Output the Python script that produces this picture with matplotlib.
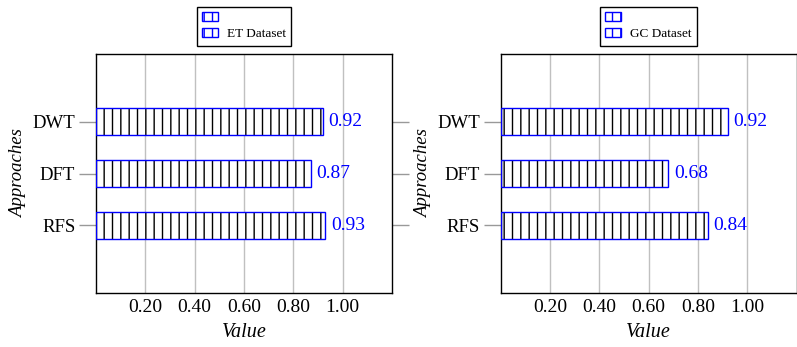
import matplotlib.pyplot as plt
from matplotlib.patches import Rectangle

approaches = ['RFS', 'DFT', 'DWT']
et_values = [0.93, 0.87, 0.92]
gc_values = [0.84, 0.68, 0.92]
x_ticks = [0.2, 0.4, 0.6, 0.8, 1.0]
datasets = ['ET Dataset', 'GC Dataset']

plt.rcParams['font.family'] = ['Liberation Serif', 'DejaVu Serif']
plt.rcParams['hatch.linewidth'] = 1.0

fig = plt.figure(figsize=(7.97, 3.47), dpi=100)
ax1 = fig.add_axes([0.1205, 0.1556, 0.3714, 0.6888])
ax2 = fig.add_axes([0.6282, 0.1556, 0.3714, 0.6888])


def draw_panel(ax, values, name):
    pos = list(range(1, len(approaches) + 1))
    ax.barh(pos, values, height=0.51, color='white', edgecolor='black',
            hatch='||', linewidth=0, zorder=2)
    ax.barh(pos, values, height=0.51, fill=False, edgecolor='blue',
            linewidth=1.0, zorder=3)
    for p, v in zip(pos, values):
        ax.text(v + 0.022, p, f'{v:.2f}', va='center', ha='left',
                color='blue', fontsize=14, zorder=4)

    ax.set_xlim(0, 1.2)
    ax.set_ylim(-0.3, 4.3)
    ax.set_xticks(x_ticks)
    ax.set_xticklabels([f'{t:.2f}' for t in x_ticks], fontsize=14)
    ax.set_yticks(pos)
    ax.set_yticklabels(approaches, fontsize=13.5)
    ax.tick_params(axis='x', length=0, pad=4)
    ax.tick_params(axis='y', length=12, width=1, color='#999999',
                   direction='out', right=True, pad=3)
    ax.grid(axis='x', color='#c0c0c0', linewidth=1, zorder=0)
    ax.set_axisbelow(True)
    for s in ax.spines.values():
        s.set_color('black')
        s.set_linewidth(1)

    ax.set_xlabel('Value', fontsize=14.5, fontstyle='italic', labelpad=5)
    ax.set_ylabel('Approaches', fontsize=13.5, fontstyle='italic', labelpad=4)

    handles = [Rectangle((0, 0), 1, 1, facecolor='white', edgecolor='blue',
                         hatch='||', linewidth=1.0),
               Rectangle((0, 0), 1, 1, facecolor='white', edgecolor='blue',
                         hatch='||', linewidth=1.0)]
    leg = ax.legend(handles, ['', name], loc='lower center',
                    bbox_to_anchor=(0.5, 1.035), fontsize=9.5, ncol=1,
                    frameon=True, fancybox=False, framealpha=1,
                    handlelength=1.2, handleheight=0.7, labelspacing=0.3,
                    borderpad=0.4, handletextpad=0.7, borderaxespad=0)
    leg.get_frame().set_edgecolor('black')
    leg.get_frame().set_linewidth(1)


draw_panel(ax1, et_values, datasets[0])
draw_panel(ax2, gc_values, datasets[1])

fig.savefig('out.png', dpi=100)
